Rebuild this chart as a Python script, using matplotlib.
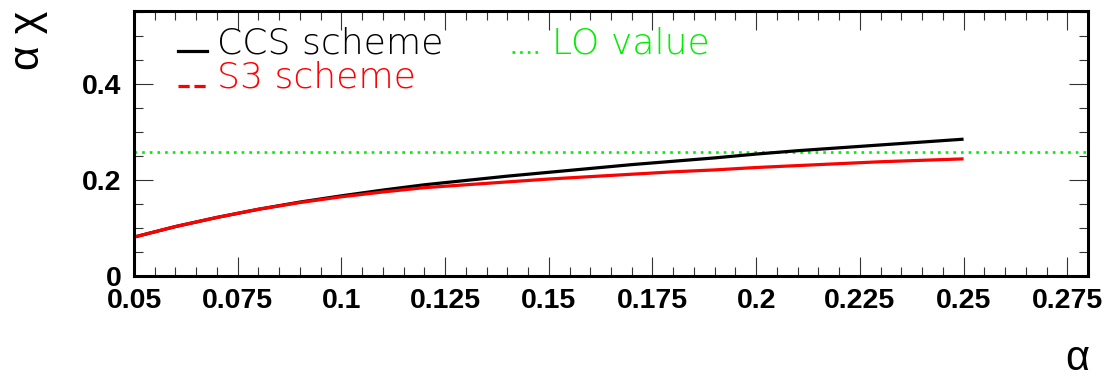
import matplotlib
matplotlib.use("Agg")
import matplotlib.pyplot as plt
from matplotlib.ticker import FixedLocator, FixedFormatter, MultipleLocator
from matplotlib.lines import Line2D

# ---- data ----
alpha = [0.05, 0.06, 0.07, 0.08, 0.09, 0.10, 0.11, 0.12, 0.13, 0.14, 0.15,
         0.16, 0.17, 0.18, 0.19, 0.20, 0.21, 0.22, 0.23, 0.24, 0.25]
ccs = [0.081, 0.103, 0.122, 0.139, 0.154, 0.167, 0.179, 0.190, 0.199, 0.208, 0.216,
       0.224, 0.232, 0.239, 0.246, 0.254, 0.261, 0.267, 0.273, 0.279, 0.285]
s3 = [0.081, 0.103, 0.122, 0.139, 0.153, 0.165, 0.175, 0.184, 0.190, 0.196, 0.202,
      0.207, 0.212, 0.217, 0.221, 0.226, 0.230, 0.234, 0.238, 0.241, 0.244]
lo_value = 0.258

xticks = [0.05, 0.075, 0.1, 0.125, 0.15, 0.175, 0.2, 0.225, 0.25, 0.275]
xtick_labels = ["0.05", "0.075", "0.1", "0.125", "0.15", "0.175", "0.2", "0.225", "0.25", "0.275"]
yticks = [0.0, 0.2, 0.4]
ytick_labels = ["0", "0.2", "0.4"]

W, H = 1116, 378
fig = plt.figure(figsize=(W / 100, H / 100), dpi=100)
L, R, T, B = 134, 1088, 11, 276
ax = fig.add_axes([L / W, (H - B) / H, (R - L) / W, (B - T) / H])

ax.set_xlim(0.05, 0.28)
ax.set_ylim(0, 0.552)

ax.axhline(lo_value, color="#00ee00", lw=1.9, linestyle=(0, (1, 1.9)), dash_capstyle="butt")
ax.plot(alpha, ccs, color="black", lw=2.3, solid_capstyle="butt")
ax.plot(alpha, s3, color="#ff0000", lw=2.3, solid_capstyle="butt")

for s in ax.spines.values():
    s.set_linewidth(2.2)

ax.xaxis.set_major_locator(FixedLocator(xticks))
ax.xaxis.set_major_formatter(FixedFormatter(xtick_labels))
ax.xaxis.set_minor_locator(MultipleLocator(0.005))
ax.yaxis.set_major_locator(FixedLocator(yticks))
ax.yaxis.set_major_formatter(FixedFormatter(ytick_labels))
ax.yaxis.set_minor_locator(MultipleLocator(0.05))

ax.tick_params(which="both", direction="in", top=True, right=True, width=0.8, color="#333333")
ax.tick_params(which="major", length=13.5)
ax.tick_params(which="minor", length=6.5)
ax.tick_params(axis="x", which="major", pad=9)
ax.tick_params(axis="y", which="major", pad=9)
for lab in ax.get_xticklabels() + ax.get_yticklabels():
    lab.set_fontfamily("Liberation Sans")
    lab.set_fontweight("bold")
    lab.set_fontsize(20.5)

# axis titles
fig.text(28 / W, 1 - 11 / H, "α χ", rotation=90, ha="center", va="top",
         fontsize=31, family="Liberation Sans")
fig.text(1089 / W, (H - 370) / H, "α", ha="right", va="baseline",
         fontsize=30, family="Liberation Sans")

# legend (manual placement)
def fx(px):
    return (px - L) / (R - L)

def fy(py):
    return (B - py) / (B - T)

lfont = dict(family=["DejaVu Sans"], fontweight="light", fontsize=26)
ax.add_line(Line2D([fx(178), fx(207)], [fy(51), fy(51)], transform=ax.transAxes,
                   color="black", lw=2.3))
ax.text(fx(217), fy(54), "CCS scheme", transform=ax.transAxes, va="baseline",
        color="black", **lfont)
ax.add_line(Line2D([fx(178), fx(207)], [fy(86), fy(86)], transform=ax.transAxes,
                   color="#ff0000", lw=2.3, linestyle=(0, (3.5, 1.5))))
ax.text(fx(217), fy(88), "S3 scheme", transform=ax.transAxes, va="baseline",
        color="#ff0000", **lfont)
ax.add_line(Line2D([fx(512), fx(542)], [fy(52), fy(52)], transform=ax.transAxes,
                   color="#00ee00", lw=1.9, linestyle=(0, (1, 1.9))))
ax.text(fx(552), fy(54), "LO value", transform=ax.transAxes, va="baseline",
        color="#00ee00", **lfont)

fig.savefig("out.png", dpi=100)
